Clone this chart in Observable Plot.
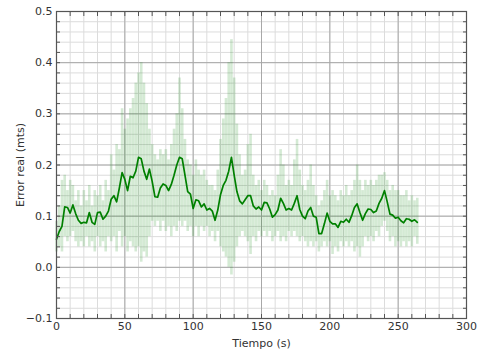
<!DOCTYPE html>
<html>
<head>
<meta charset="utf-8">
<script src="https://cdn.jsdelivr.net/npm/d3@7"></script>
<script src="https://cdn.jsdelivr.net/npm/@observablehq/plot@0.6"></script>
<style>
  html, body { margin: 0; padding: 0; background: #fff; }
  #chart svg { display: block; }
</style>
</head>
<body>
<div id="chart"></div>
<script>
// Sample times (s)
const tiempo = [
  0, 2, 4, 6, 8, 10, 12, 14, 16, 18,
  20, 22, 24, 26, 28, 30, 32, 34, 36, 38,
  40, 42, 44, 46, 48, 50, 52, 54, 56, 58,
  60, 62, 64, 66, 68, 70, 72, 74, 76, 78,
  80, 82, 84, 86, 88, 90, 92, 94, 96, 98,
  100, 102, 104, 106, 108, 110, 112, 114, 116, 118,
  120, 122, 124, 126, 128, 130, 132, 134, 136, 138,
  140, 142, 144, 146, 148, 150, 152, 154, 156, 158,
  160, 162, 164, 166, 168, 170, 172, 174, 176, 178,
  180, 182, 184, 186, 188, 190, 192, 194, 196, 198,
  200, 202, 204, 206, 208, 210, 212, 214, 216, 218,
  220, 222, 224, 226, 228, 230, 232, 234, 236, 238,
  240, 242, 244, 246, 248, 250, 252, 254, 256, 258,
  260, 262, 264
];

// Mean real error (m)
const errorMedio = [
  0.055, 0.070, 0.080, 0.118, 0.117, 0.106, 0.122, 0.105, 0.092, 0.086,
  0.088, 0.087, 0.107, 0.088, 0.084, 0.107, 0.108, 0.094, 0.100, 0.110,
  0.133, 0.140, 0.128, 0.155, 0.185, 0.172, 0.150, 0.178, 0.175, 0.188,
  0.215, 0.212, 0.188, 0.172, 0.192, 0.168, 0.138, 0.137, 0.155, 0.163,
  0.160, 0.150, 0.162, 0.180, 0.200, 0.215, 0.212, 0.180, 0.148, 0.143,
  0.115, 0.132, 0.130, 0.118, 0.124, 0.112, 0.115, 0.110, 0.092, 0.112,
  0.142, 0.160, 0.170, 0.188, 0.215, 0.180, 0.148, 0.130, 0.124, 0.132,
  0.140, 0.140, 0.120, 0.114, 0.118, 0.112, 0.127, 0.126, 0.114, 0.098,
  0.103, 0.112, 0.135, 0.125, 0.112, 0.115, 0.112, 0.125, 0.140, 0.113,
  0.100, 0.095, 0.110, 0.117, 0.100, 0.098, 0.066, 0.066, 0.085, 0.106,
  0.090, 0.085, 0.085, 0.078, 0.090, 0.088, 0.094, 0.088, 0.101, 0.117,
  0.124, 0.107, 0.092, 0.105, 0.114, 0.113, 0.107, 0.110, 0.125, 0.135,
  0.150, 0.128, 0.104, 0.102, 0.096, 0.098, 0.091, 0.087, 0.095, 0.094,
  0.090, 0.093, 0.088
];

// Upper end of each error bar (m)
const errorSuperior = [
  0.09, 0.12, 0.17, 0.18, 0.15, 0.17, 0.16, 0.13, 0.15, 0.12,
  0.15, 0.13, 0.16, 0.12, 0.15, 0.14, 0.16, 0.13, 0.17, 0.15,
  0.22, 0.19, 0.24, 0.23, 0.31, 0.27, 0.29, 0.31, 0.33, 0.36,
  0.38, 0.40, 0.36, 0.32, 0.27, 0.24, 0.22, 0.21, 0.23, 0.22,
  0.23, 0.21, 0.24, 0.27, 0.30, 0.37, 0.31, 0.25, 0.21, 0.20,
  0.18, 0.21, 0.19, 0.18, 0.19, 0.17, 0.16, 0.16, 0.15, 0.19,
  0.25, 0.29, 0.33, 0.40, 0.445, 0.37, 0.28, 0.22, 0.18, 0.19,
  0.24, 0.26, 0.18, 0.16, 0.17, 0.15, 0.17, 0.16, 0.14, 0.15,
  0.14, 0.18, 0.23, 0.20, 0.16, 0.17, 0.16, 0.21, 0.25, 0.19,
  0.16, 0.15, 0.17, 0.20, 0.16, 0.14, 0.12, 0.13, 0.15, 0.17,
  0.14, 0.15, 0.14, 0.13, 0.15, 0.14, 0.16, 0.14, 0.15, 0.17,
  0.20, 0.17, 0.15, 0.17, 0.16, 0.17, 0.16, 0.17, 0.18, 0.18,
  0.185, 0.17, 0.15, 0.16, 0.15, 0.15, 0.14, 0.14, 0.15, 0.13,
  0.14, 0.13, 0.135
];

// Lower end of each error bar (m)
const errorInferior = [
  0.03, 0.04, 0.03, 0.06, 0.05, 0.06, 0.07, 0.05, 0.04, 0.05,
  0.04, 0.06, 0.04, 0.05, 0.03, 0.06, 0.04, 0.05, 0.03, 0.06,
  0.05, 0.06, 0.03, 0.07, 0.04, 0.06, 0.03, 0.05, 0.04, 0.03,
  0.04, 0.01, 0.03, 0.02, 0.06, 0.09, 0.08, 0.09, 0.07, 0.09,
  0.07, 0.08, 0.06, 0.08, 0.07, 0.09, 0.08, 0.09, 0.07, 0.08,
  0.06, 0.08, 0.06, 0.08, 0.07, 0.08, 0.06, 0.07, 0.05, 0.07,
  0.04, 0.03, 0.02, 0.00, -0.015, 0.01, 0.04, 0.06, 0.07, 0.06,
  0.05, 0.025, 0.06, 0.05, 0.07, 0.06, 0.07, 0.06, 0.07, 0.05,
  0.06, 0.07, 0.05, 0.06, 0.05, 0.07, 0.06, 0.07, 0.06, 0.05,
  0.06, 0.05, 0.04, 0.05, 0.04, 0.05, 0.03, 0.04, 0.05, 0.04,
  0.05, 0.025, 0.04, 0.03, 0.05, 0.04, 0.05, 0.04, 0.05, 0.03,
  0.04, 0.02, 0.04, 0.06, 0.05, 0.06, 0.05, 0.07, 0.06, 0.08,
  0.09, 0.07, 0.05, 0.06, 0.04, 0.05, 0.04, 0.05, 0.04, 0.05,
  0.04, 0.06, 0.045
];

// Axis ticks
const ticksX = [0, 50, 100, 150, 200, 250, 300];
const ticksY = [-0.1, 0.0, 0.1, 0.2, 0.3, 0.4, 0.5];
const ticksXMenor = d3.range(0, 301, 10);
const ticksYMenor = d3.range(-0.1, 0.5001, 0.02).map(v => +v.toFixed(2));

const datos = tiempo.map((t, i) => ({
  t,
  media: errorMedio[i],
  inf: errorInferior[i],
  sup: errorSuperior[i]
}));

const verde = "#008000";
const fmtY = d3.format(".1f");

const chart = Plot.plot({
  width: 483,
  height: 350,
  marginLeft: 56,
  marginRight: 17,
  marginTop: 11,
  marginBottom: 32,
  style: {
    fontFamily: "DejaVu Sans, sans-serif",
    fontSize: "11px",
    color: "#333",
    background: "#fff"
  },
  x: { domain: [0, 300] },
  y: { domain: [-0.1, 0.5] },
  marks: [
    // minor and major grid
    Plot.gridX(ticksXMenor, { stroke: "#dcdcdc", strokeOpacity: 1, strokeWidth: 1 }),
    Plot.gridY(ticksYMenor, { stroke: "#dcdcdc", strokeOpacity: 1, strokeWidth: 1 }),
    Plot.gridX(ticksX, { stroke: "#a8a8a8", strokeOpacity: 1, strokeWidth: 1 }),
    Plot.gridY(ticksY, { stroke: "#a8a8a8", strokeOpacity: 1, strokeWidth: 1 }),
    // error bars
    Plot.ruleX(datos, {
      x: "t", y1: "inf", y2: "sup",
      stroke: verde, strokeOpacity: 0.17, strokeWidth: 2.6
    }),
    // mean error
    Plot.line(datos, {
      x: "t", y: "media",
      stroke: verde, strokeWidth: 1.7, curve: "linear"
    }),
    Plot.frame({ stroke: "#555", strokeWidth: 1.2 }),
    // inward ticks on all four sides
    Plot.axisX(ticksXMenor, { anchor: "bottom", tickSize: -4, text: null, label: null, stroke: "#555" }),
    Plot.axisX(ticksXMenor, { anchor: "top", tickSize: -4, text: null, label: null, stroke: "#555" }),
    Plot.axisY(ticksYMenor, { anchor: "left", tickSize: -4, text: null, label: null, stroke: "#555" }),
    Plot.axisY(ticksYMenor, { anchor: "right", tickSize: -4, text: null, label: null, stroke: "#555" }),
    // tick labels and titles
    Plot.axisX(ticksX, {
      anchor: "bottom", tickSize: 0, tickPadding: 4,
      label: "Tiempo (s)", labelAnchor: "center", labelArrow: "none", labelOffset: 28
    }),
    Plot.axisY(ticksY, {
      anchor: "left", tickSize: 0, tickPadding: 4, tickFormat: fmtY,
      label: "Error real (mts)", labelAnchor: "center", labelArrow: "none", labelOffset: 40
    })
  ]
});

document.getElementById("chart").appendChild(chart);
</script>
</body>
</html>
